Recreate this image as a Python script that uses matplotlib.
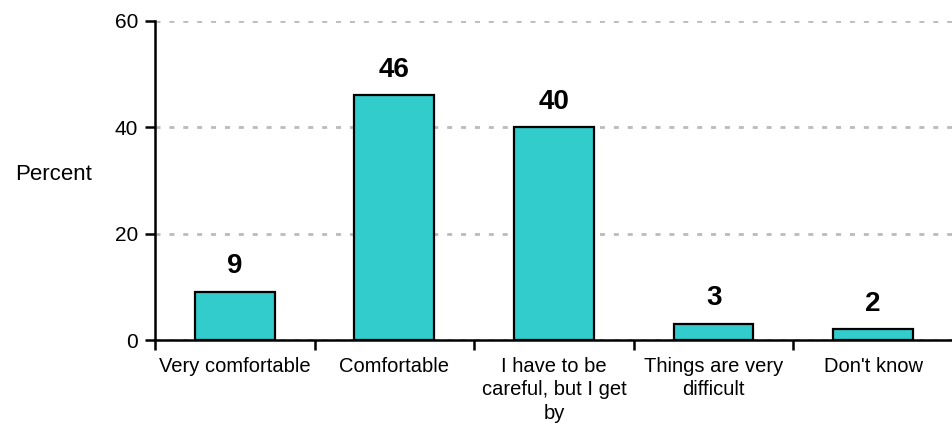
import matplotlib
matplotlib.use("Agg")
import matplotlib.pyplot as plt

categories = ["Very comfortable", "Comfortable", "I have to be\ncareful, but I get\nby",
              "Things are very\ndifficult", "Don't know"]
values = [9, 46, 40, 3, 2]
yticks = [0, 20, 40, 60]

plt.rcParams['font.family'] = ['Liberation Sans', 'DejaVu Sans']

fig = plt.figure(figsize=(9.53, 4.30), dpi=100)
ax = fig.add_axes([155/953, 90/430, 798/953, 319/430])

x = range(len(categories))
ax.bar(x, values, width=0.5, color="#33CCCC", edgecolor="black", linewidth=1.6, zorder=3)

for xi, v in zip(x, values):
    ax.text(xi, v + 2.4, f"{v}", ha="center", va="bottom", fontsize=20, fontweight="bold")

ax.set_ylim(0, 60)
ax.set_xlim(-0.5, -0.5 + 798/161.6)
ax.set_yticks(yticks)
ax.set_yticklabels([str(t) for t in yticks], fontsize=15)
ax.yaxis.grid(True, linestyle=(0, (1.8, 3.2)), color="#BBBBBB", linewidth=2, zorder=0)

# category boundaries get the tick marks, labels sit at bar centres
ax.set_xticks([i - 0.5 for i in range(len(categories) + 1)])
ax.set_xticklabels([])
ax.set_xticks(list(x), minor=True)
ax.set_xticklabels(categories, minor=True, fontsize=14.5, linespacing=1.3, va="top")
ax.tick_params(axis="x", which="minor", length=0, pad=12)
ax.tick_params(axis="x", which="major", length=7, width=1.8, direction="out")
ax.tick_params(axis="y", length=7, width=1.8, direction="out", pad=5)

for side in ("top", "right"):
    ax.spines[side].set_visible(False)
for side in ("left", "bottom"):
    ax.spines[side].set_linewidth(1.8)

fig.text(53.5/953, 1 - 174/430, "Percent", ha="center", va="center", fontsize=16)

fig.savefig("out.png", dpi=100)
